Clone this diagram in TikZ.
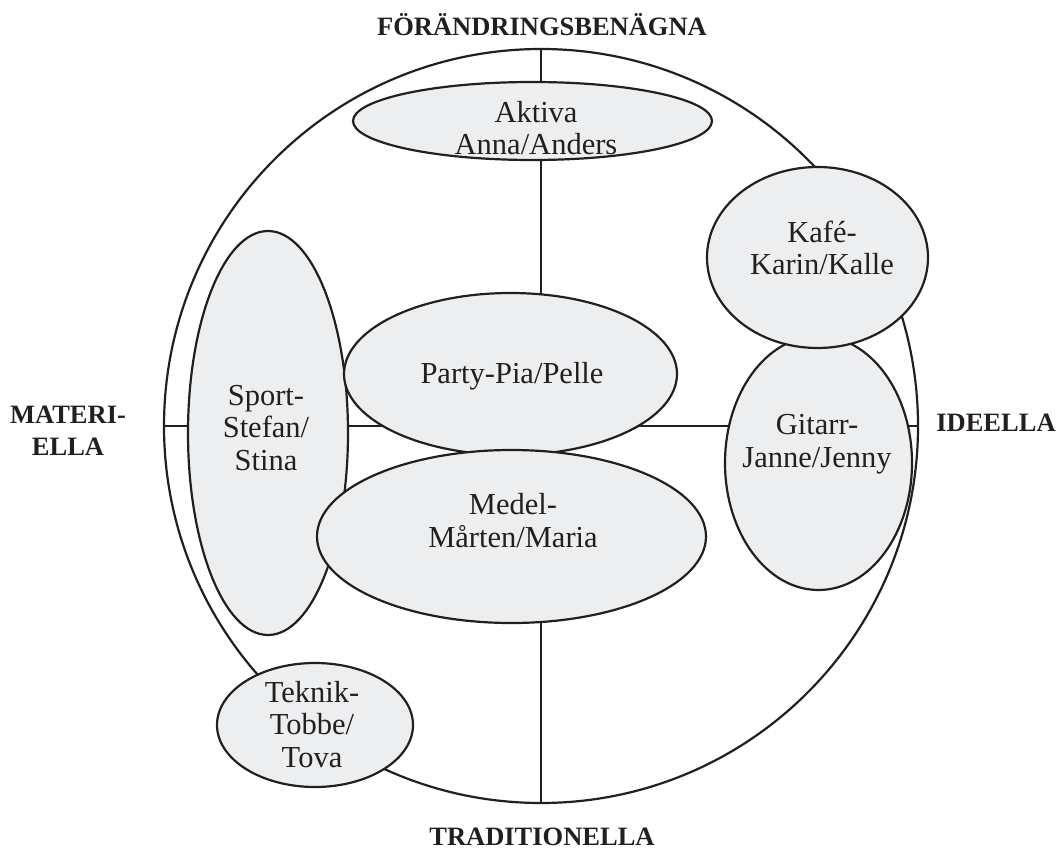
\documentclass[tikz,border=0pt]{standalone}
\usepackage{fontspec}
\setmainfont{Liberation Serif}
\usetikzlibrary{shapes.geometric}
\pgfdeclarelayer{axes}
\pgfdeclarelayer{under}
\pgfsetlayers{axes,under,main}
\definecolor{ink}{HTML}{231F20}
\definecolor{pale}{HTML}{EDEEF0}
\tikzset{
  blob/.style={ellipse, draw=ink, fill=pale, line width=2.2pt, inner sep=0pt},
  ringline/.style={circle, draw=ink, line width=2.2pt, inner sep=0pt, minimum size=754pt},
  axisline/.style={draw=ink, line width=2.2pt},
  % multi-line texts sit on the baseline of their last line
  segtext/.style={font=\fontsize{30.5}{32.5}\selectfont, text=ink, align=center, anchor=base, inner sep=0pt},
  poletext/.style={font=\bfseries\fontsize{26.5}{32}\selectfont, text=ink, align=center, anchor=base, inner sep=0pt}
}
\begin{document}
\begin{tikzpicture}[x=1pt,y=-1pt]
\useasboundingbox (0,0) rectangle (1057,850);

% outer circle and the two axes behind everything
\begin{pgfonlayer}{under}
\node[blob, minimum width=187pt, minimum height=254pt] (gitarr) at (818.5,463) {};
\end{pgfonlayer}
\node[ringline] (ring) at (541,426) {};
\begin{pgfonlayer}{axes}
\draw[axisline] (ring.north) -- (ring.south);
\draw[axisline] (ring.west) -- (ring.east);
\end{pgfonlayer}

% segments
\node[blob, minimum width=359pt, minimum height=78pt] (aktiva) at (532.5,121) {};
\node[blob, minimum width=160pt, minimum height=404pt] (sport) at (268,433) {};
\node[blob, minimum width=333pt, minimum height=162pt] (party) at (510.5,374) {};
\node[blob, minimum width=389pt, minimum height=173pt] (medel) at (511.5,536.5) {};
\node[blob, minimum width=221pt, minimum height=181pt] (kafe) at (817.5,257.5) {};
\node[blob, minimum width=196pt, minimum height=124pt] (teknik) at (315,725) {};

% segment names
\node[segtext] (aktiva-t) at (536,155) {Aktiva\\Anna/Anders};
\node[segtext] (party-t) at (512,383) {Party-Pia/Pelle};
\node[segtext] (medel-t) at (513,547) {Medel-\\Mårten/Maria};
\node[segtext] (kafe-t) at (822,275) {Kafé-\\Karin/Kalle};
\node[segtext] (gitarr-t) at (817,467) {Gitarr-\\Janne/Jenny};
\node[segtext] (sport-t) at (266,470) {Sport-\\Stefan/\\Stina};
\node[segtext] (teknik-t) at (312,767) {Teknik-\\Tobbe/\\Tova};

% axis poles
\node[poletext] (top) at (542,36) {FÖRÄNDRINGSBENÄGNA};
\node[poletext] (bottom) at (542,845) {TRADITIONELLA};
\node[poletext] (left) at (68,455) {MATERI-\\ELLA};
\node[poletext] (right) at (996,431) {IDEELLA};
\end{tikzpicture}
\end{document}
